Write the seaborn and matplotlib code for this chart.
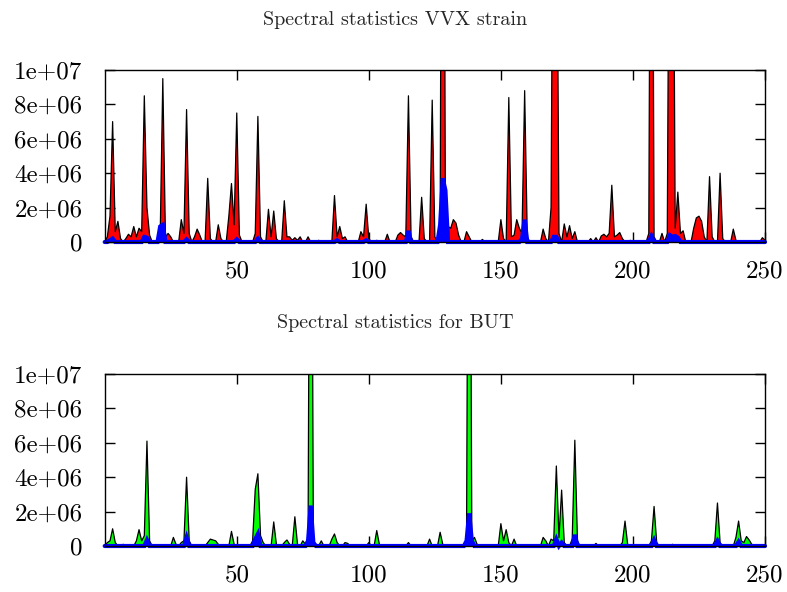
import numpy as np
import pandas as pd
import matplotlib
matplotlib.use("Agg")
import matplotlib.pyplot as plt
import seaborn as sns

# ---------------- data (in units of 1e6) -------------
x_values = list(range(0, 251))

# VVX strain, red series: peak positions and heights (all other points ~0)
vvx_red_x = [1, 2, 3, 4, 5, 6, 8, 9, 10, 11, 12, 13, 14, 15, 16, 17,
             21, 22, 23, 24, 25, 29, 30, 31, 32, 34, 35, 36, 39, 40, 43, 44,
             47, 48, 49, 50, 51, 57, 58, 59, 62, 63, 64, 65, 68, 69, 70, 71,
             72, 73, 74, 77, 81, 87, 88, 89, 90, 91, 97, 98, 99, 100, 103, 107,
             111, 112, 113, 114, 115, 116, 120, 121, 124, 125, 127, 128, 129, 130,
             131, 132, 133, 134, 137, 138, 143, 150, 151, 153, 154, 155, 156, 157,
             158, 159, 160, 166, 167, 169, 170, 171, 172, 174, 175, 176, 177, 178,
             184, 186, 188, 189, 190, 191, 192, 193, 194, 195, 196, 199, 206, 207,
             208, 211, 213, 214, 215, 216, 217, 218, 219, 223, 224, 225, 226, 227,
             229, 230, 233, 234, 238, 239, 249, 250]
vvx_red_y = [0.3, 1.5, 7.0, 0.6, 1.2, 0.2, 0.2, 0.45, 0.3, 0.9, 0.3, 0.8, 0.6, 8.5, 2.0, 0.4,
             0.3, 9.5, 0.3, 0.5, 0.3, 1.3, 0.5, 7.7, 0.5, 0.3, 0.75, 0.4, 3.7, 0.2, 1.0, 0.2,
             1.5, 3.4, 1.0, 7.5, 0.4, 0.5, 7.3, 0.3, 1.9, 0.3, 1.8, 0.2, 2.4, 0.3, 0.3, 0.1,
             0.25, 0.1, 0.3, 0.3, 0.1, 2.7, 0.3, 0.9, 0.2, 0.3, 0.6, 0.3, 2.2, 0.2, 0.1, 0.45,
             0.4, 0.55, 0.4, 0.3, 8.5, 0.3, 2.6, 0.2, 8.25, 0.3, 0.5, 50.0, 1.0, 0.9,
             0.8, 1.3, 1.1, 0.4, 0.6, 0.3, 0.15, 1.3, 0.2, 8.4, 0.3, 0.4, 1.3, 0.8,
             0.5, 8.8, 0.3, 0.75, 0.2, 2.0, 30.0, 25.0, 0.5, 1.05, 0.3, 0.95, 0.2, 0.6,
             0.2, 0.25, 0.35, 0.45, 0.3, 0.5, 3.3, 0.3, 0.4, 0.55, 0.2, 0.1, 0.5, 40.0,
             0.3, 0.5, 0.5, 30.0, 30.0, 0.8, 2.9, 0.5, 0.65, 0.8, 1.4, 1.5, 1.2, 0.3,
             3.8, 0.3, 4.0, 0.2, 0.75, 0.1, 0.25, 0.1]

# VVX strain, blue series
vvx_blue_x = [2, 3, 15, 16, 21, 22, 31, 50, 58, 88, 99, 115, 127, 128, 129,
              158, 159, 170, 171, 207, 214, 215, 216, 217]
vvx_blue_y = [0.1, 0.2, 0.3, 0.25, 0.9, 1.0, 0.15, 0.15, 0.2, 0.1, 0.1, 0.65, 1.0, 3.7, 3.0,
              0.2, 1.3, 0.3, 0.3, 0.35, 0.4, 0.3, 0.35, 0.25]

# BUT, green series
but_green_x = [1, 2, 3, 4, 7, 12, 13, 14, 15, 16, 17, 26, 27, 29, 30, 31, 32,
               39, 40, 41, 42, 43, 48, 49, 56, 57, 58, 59, 60, 64, 65, 68, 69, 70,
               72, 73, 75, 76, 77, 78, 79, 82, 86, 87, 88, 91, 92, 100, 103, 104,
               115, 123, 127, 128, 137, 138, 139, 140, 141, 150, 151, 152, 153, 155,
               166, 167, 169, 170, 171, 172, 173, 174, 177, 178, 179, 186, 196, 197,
               198, 207, 208, 209, 215, 226, 231, 232, 233, 239, 240, 241, 242, 243,
               244, 245]
but_green_y = [0.2, 0.3, 1.0, 0.2, 0.1, 0.3, 0.95, 0.3, 0.6, 6.1, 0.3, 0.5, 0.1, 0.2, 0.3, 4.0, 0.3,
               0.2, 0.4, 0.35, 0.3, 0.1, 0.85, 0.1, 0.3, 3.3, 4.2, 0.6, 0.2, 1.4, 0.1, 0.2, 0.35, 0.1,
               1.7, 0.1, 0.3, 0.1, 0.5, 40.0, 0.3, 0.3, 0.4, 0.7, 0.2, 0.2, 0.15, 0.2, 0.9, 0.1,
               0.2, 0.4, 0.8, 0.1, 0.4, 40.0, 0.3, 0.5, 0.1, 1.3, 0.3, 0.95, 0.2, 0.4,
               0.5, 0.3, 0.4, 0.3, 4.65, 0.5, 3.25, 0.2, 0.4, 6.15, 0.3, 0.15, 0.2, 1.45,
               0.1, 0.3, 2.3, 0.2, 0.1, 0.05, 0.3, 2.5, 0.2, 0.5, 1.45, 0.3, 0.2, 0.55,
               0.35, 0.1]

# BUT, blue series
but_blue_x = [16, 31, 57, 58, 77, 78, 79, 137, 138, 139, 171, 173, 178, 208, 232, 240]
but_blue_y = [0.35, 0.5, 0.4, 0.7, 0.3, 2.35, 0.2, 0.3, 1.9, 0.3, 0.4, 0.2, 0.65, 0.35, 0.3, 0.25]

titles = ["Spectral statistics VVX strain", "Spectral statistics for BUT"]
x_ticks = [50, 100, 150, 200, 250]
y_ticks = [0, 2e6, 4e6, 6e6, 8e6, 1e7]
y_tick_labels = ["0", "2e+06", "4e+06", "6e+06", "8e+06", "1e+07"]


def full_series(px, py):
    s = pd.Series(0.0, index=x_values)
    s.loc[px] = np.array(py) * 1e6
    return s.values


x = np.array(x_values, dtype=float)
vvx_red = full_series(vvx_red_x, vvx_red_y)
vvx_blue = full_series(vvx_blue_x, vvx_blue_y)
but_green = full_series(but_green_x, but_green_y)
but_blue = full_series(but_blue_x, but_blue_y)

# ---------------- style -------------
sns.set_style("ticks")
plt.rcParams['font.family'] = ['cmr10', 'DejaVu Serif']
plt.rcParams['mathtext.fontset'] = 'cm'
plt.rcParams['axes.unicode_minus'] = False
plt.rcParams['axes.formatter.use_mathtext'] = True

W, H = 787, 592
fig = plt.figure(figsize=(W / 100, H / 100), dpi=100)
left, right = 104.7, 765
ax1 = fig.add_axes([left / W, 1 - 242 / H, (right - left) / W, 172 / H])
ax2 = fig.add_axes([left / W, 1 - 546 / H, (right - left) / W, 172 / H])


def draw(ax, main, blue, color):
    ax.fill_between(x, 0, main, color=color, lw=0, zorder=1)
    sns.lineplot(x=x, y=main, ax=ax, color='black', lw=0.9, zorder=2)
    ax.fill_between(x, 0, blue, color='#0000ff', lw=0, zorder=3)
    sns.lineplot(x=x, y=blue, ax=ax, color='#0000ff', lw=3, zorder=4,
                 clip_on=False, solid_joinstyle='miter')
    ax.set_xlim(0, 250)
    ax.set_ylim(0, 1e7)
    ax.set_xticks(x_ticks)
    ax.set_xticklabels([str(t) for t in x_ticks])
    ax.set_yticks(y_ticks)
    ax.set_yticklabels(y_tick_labels)
    ax.tick_params(direction='in', length=7, width=1, top=True, right=True,
                   labelsize=18, color='black', labelcolor='black')
    ax.tick_params(axis='y', pad=16)
    ax.tick_params(axis='x', pad=13)
    for sp in ax.spines.values():
        sp.set_visible(True)
        sp.set_color('black')
        sp.set_linewidth(1)
        sp.set_zorder(5)
    ax.set_xlabel('')
    ax.set_ylabel('')
    ax.set_facecolor('white')


draw(ax1, vvx_red, vvx_blue, '#ff0000')
draw(ax2, but_green, but_blue, '#00ff00')

fig.text(395 / W, 1 - 20 / H, titles[0], ha='center', va='center', fontsize=14.5)
fig.text(395 / W, 1 - 323 / H, titles[1], ha='center', va='center', fontsize=14.5)

fig.savefig("out.png", dpi=100, facecolor='white')
